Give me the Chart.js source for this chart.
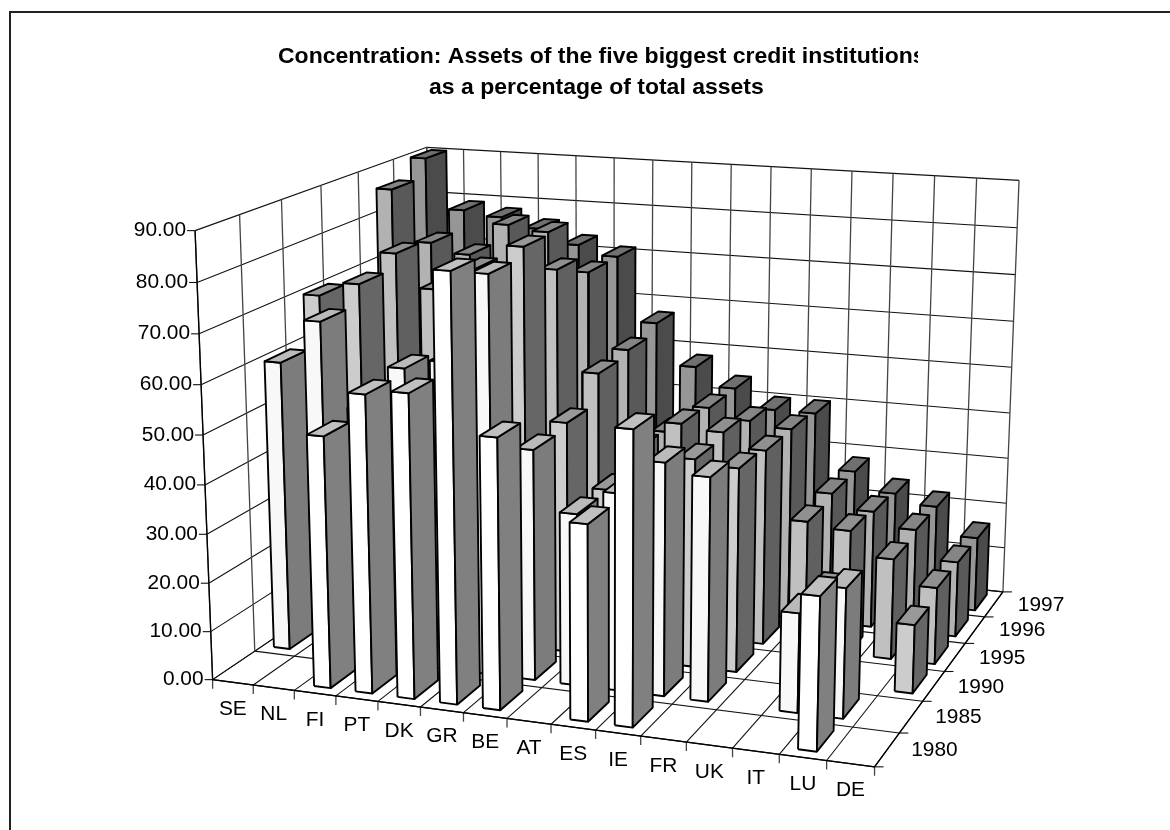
<!DOCTYPE html>
<html>
<head>
<meta charset="utf-8">
<script src="https://cdn.jsdelivr.net/npm/chart.js@4"></script>
<style>
  html, body { margin: 0; background: #fff; overflow: hidden; }
  #frame { position: absolute; left: 9px; top: 11px; right: -4px; bottom: -4px; border-left: 2px solid #222; border-top: 2px solid #222; }
  canvas { position: absolute; left: 0; top: 0; }
</style>
</head>
<body>
<div id="frame"></div>
<canvas id="chart" width="1170" height="830"></canvas>
<script>
// Sample data
const categories = ['SE', 'NL', 'FI', 'PT', 'DK', 'GR', 'BE', 'AT', 'ES', 'IE', 'FR', 'UK', 'IT', 'LU', 'DE'];
const years = ['1980', '1985', '1990', '1995', '1996', '1997'];
const valueTicks = [0, 10, 20, 30, 40, 50, 60, 70, 80, 90];

const values1980 = [null, null, 51, 60, 61, 85, 54, null, 39, 58, null, null, null, 30, null];
const values1985 = [60, 69, 52, 61, 63, 81, 47, 35, 40, 47, 45, null, 20, 26, null];
const values1990 = [70, 73, 52, 56, 76, 83, 48, 35, 34, 43, 42, null, 19, null, 14];
const values1995 = [62, 76, 69, 74, 72, 75, 54, 39, 45, 44, 41, 27, 26, 21, 16];
const values1996 = [86, 75, 73, 80, 79, 71, 55, 38, 44, 42, 41, 28, 25, 22, 16];
const values1997 = [90, 79, 78, 76, 73, 71, 57, 48, 44, 40, 40, 28, 24, 22, 16];
const series = [values1980, values1985, values1990, values1995, values1996, values1997];

// front, right side and top of the bars of each year
const faceColors = [
  ['#ffffff', '#808080', '#c0c0c0'],
  ['#f8f8f8', '#7c7c7c', '#bababa'],
  ['#cccccc', '#666666', '#999999'],
  ['#c0c0c0', '#606060', '#909090'],
  ['#b2b2b2', '#595959', '#858585'],
  ['#969696', '#4b4b4b', '#707070'],
];

const barWidth = 0.4, barDepth = 0.63, barLeft = 0.28, barFront = 0.2;
const textStretch = 1.045;

// camera calibration: category, year row, value -> page position
const frameRefs = [
  [0, 0, 0, 213.3, 678.3], [0, 0, 50, 203.3, 435], [0, 0, 90, 194, 231],
  [0, 6, 90, 427.7, 146.7], [15, 6, 90, 1018.3, 181], [15, 6, 50, 1011.7, 366.7],
  [15, 6, 0, 1003.3, 590], [15, 0, 0, 874.3, 768.3], [0, 6, 0, 432, 533],
  [0, 1, 0, 255, 650], [8, 6, 90, 732, 164.5], [0, 3, 90, 320.7, 185.3],
  [8, 0, 0, 551.3, 724.3], [13, 0, 0, 779.3, 755],
];

function solve(A, b) {
  const n = b.length;
  for (let i = 0; i < n; i++) {
    let p = i;
    for (let r = i + 1; r < n; r++) if (Math.abs(A[r][i]) > Math.abs(A[p][i])) p = r;
    [A[i], A[p]] = [A[p], A[i]];
    [b[i], b[p]] = [b[p], b[i]];
    for (let r = i + 1; r < n; r++) {
      const f = A[r][i] / A[i][i];
      for (let c = i; c < n; c++) A[r][c] -= f * A[i][c];
      b[r] -= f * b[i];
    }
  }
  const out = new Array(n);
  for (let i = n - 1; i >= 0; i--) {
    let s = b[i];
    for (let c = i + 1; c < n; c++) s -= A[i][c] * out[c];
    out[i] = s / A[i][i];
  }
  return out;
}

// least squares fit of the perspective matrix
function fitCamera(refs) {
  const rows = [], rhs = [];
  refs.forEach(([a, b, c, x, y]) => {
    const u = a / 15, v = b / 6, w = c / 90;
    rows.push([u, v, w, 1, 0, 0, 0, 0, -x * u, -x * v, -x * w]); rhs.push(x);
    rows.push([0, 0, 0, 0, u, v, w, 1, -y * u, -y * v, -y * w]); rhs.push(y);
  });
  const N = rows[0].map((_, i) => rows[0].map((_, j) => rows.reduce((s, r) => s + r[i] * r[j], 0)));
  const t = rows[0].map((_, i) => rows.reduce((s, r, k) => s + r[i] * rhs[k], 0));
  return solve(N, t);
}

const cam = fitCamera(frameRefs);

function project(a, b, c) {
  const u = a / 15, v = b / 6, w = c / 90;
  const d = cam[8] * u + cam[9] * v + cam[10] * w + 1;
  return {
    x: (cam[0] * u + cam[1] * v + cam[2] * w + cam[3]) / d,
    y: (cam[4] * u + cam[5] * v + cam[6] * w + cam[7]) / d,
  };
}

const datasets = [];
function addLine(points, color, width) {
  datasets.push({ data: points, showLine: true, fill: false, borderColor: color, borderWidth: width, pointRadius: 0, tension: 0, clip: false });
}
function addFace(points, color) {
  datasets.push({ data: [...points, points[0]], showLine: true, fill: 'shape', backgroundColor: color, borderColor: '#000', borderWidth: 1.9, borderJoinStyle: 'round', pointRadius: 0, tension: 0, clip: false });
}

// walls and floor
valueTicks.forEach((t) => {
  addLine([project(0, 0, t), project(0, 6, t), project(15, 6, t)], '#111', 1.1);
  const a = project(0, 0, t);
  addLine([a, { x: a.x - 8, y: a.y }], '#111', 1.1);
});
categories.concat('').forEach((_, u) => {
  addLine([project(u, 6, 90), project(u, 6, 0)], '#444', 1.3);
  addLine([project(u, 6, 0), project(u, 0, 0)], '#111', 1.1);
  const a = project(u, 0, 0);
  addLine([a, { x: a.x, y: a.y + 9 }], '#444', 1.3);
});
years.concat('').forEach((_, r) => {
  addLine([project(0, r, 90), project(0, r, 0)], '#444', 1.3);
  addLine([project(0, r, 0), project(15, r, 0)], '#111', 1.1);
  const a = project(15, r, 0);
  addLine([a, { x: a.x + 9, y: a.y }], '#111', 1.1);
});
addLine([project(0, 0, 90), project(0, 0, 0), project(15, 0, 0), project(15, 6, 0)], '#000', 1.3);

// bars, back row first and left to right, so nearer ones paint over
for (let r = years.length - 1; r >= 0; r--) {
  categories.forEach((_, u) => {
    const val = series[r][u];
    if (val === null) return;
    const u0 = u + barLeft, u1 = u0 + barWidth, v0 = r + barFront, v1 = v0 + barDepth;
    const [front, right, top] = faceColors[r];
    addFace([project(u0, v0, 0), project(u1, v0, 0), project(u1, v0, val), project(u0, v0, val)], front);
    addFace([project(u1, v0, 0), project(u1, v1, 0), project(u1, v1, val), project(u1, v0, val)], right);
    addFace([project(u0, v0, val), project(u1, v0, val), project(u1, v1, val), project(u0, v1, val)], top);
  });
}

// the reference text is a little stretched sideways
function stretchedText(ctx, text, x, y) {
  ctx.save();
  ctx.translate(x, y);
  ctx.scale(textStretch, 1);
  ctx.fillText(text, 0, 0);
  ctx.restore();
}

const axisLabels = {
  id: 'axisLabels',
  afterDraw(chart) {
    const ctx = chart.ctx;
    const X = chart.scales.x, Y = chart.scales.y;
    ctx.save();
    ctx.fillStyle = '#000';
    ctx.textBaseline = 'middle';
    ctx.font = '20px "Liberation Sans"';
    ctx.textAlign = 'right';
    valueTicks.forEach((t) => {
      const p = project(0, 0, t);
      stretchedText(ctx, t.toFixed(2), X.getPixelForValue(p.x) - 9, Y.getPixelForValue(p.y));
    });
    ctx.textAlign = 'center';
    categories.forEach((c, u) => {
      const p = project(u + 0.5, 0, 0);
      stretchedText(ctx, c, X.getPixelForValue(p.x), Y.getPixelForValue(p.y) + 27);
    });
    ctx.textAlign = 'left';
    years.forEach((y, r) => {
      const p = project(15, r + 0.5, 0);
      stretchedText(ctx, y, X.getPixelForValue(p.x) + 24, Y.getPixelForValue(p.y) + 1);
    });
    ctx.font = 'bold 22px "Liberation Sans"';
    stretchedText(ctx, 'as a percentage of total assets', 429, 88);
    // first title line is cut off on the right in the reference
    ctx.beginPath();
    ctx.rect(0, 0, 918, 830);
    ctx.clip();
    stretchedText(ctx, 'Concentration: Assets of the five biggest credit institutions', 278, 57);
    ctx.restore();
  },
};

new Chart(document.getElementById('chart').getContext('2d'), {
  type: 'scatter',
  data: { datasets: datasets.reverse() },
  options: {
    responsive: false,
    animation: false,
    layout: { padding: 0 },
    plugins: { legend: { display: false }, title: { display: false }, tooltip: { enabled: false } },
    scales: {
      x: { type: 'linear', min: 0, max: 1170, display: false },
      y: { type: 'linear', min: 0, max: 830, reverse: true, display: false },
    },
  },
  plugins: [axisLabels],
});
</script>
</body>
</html>
